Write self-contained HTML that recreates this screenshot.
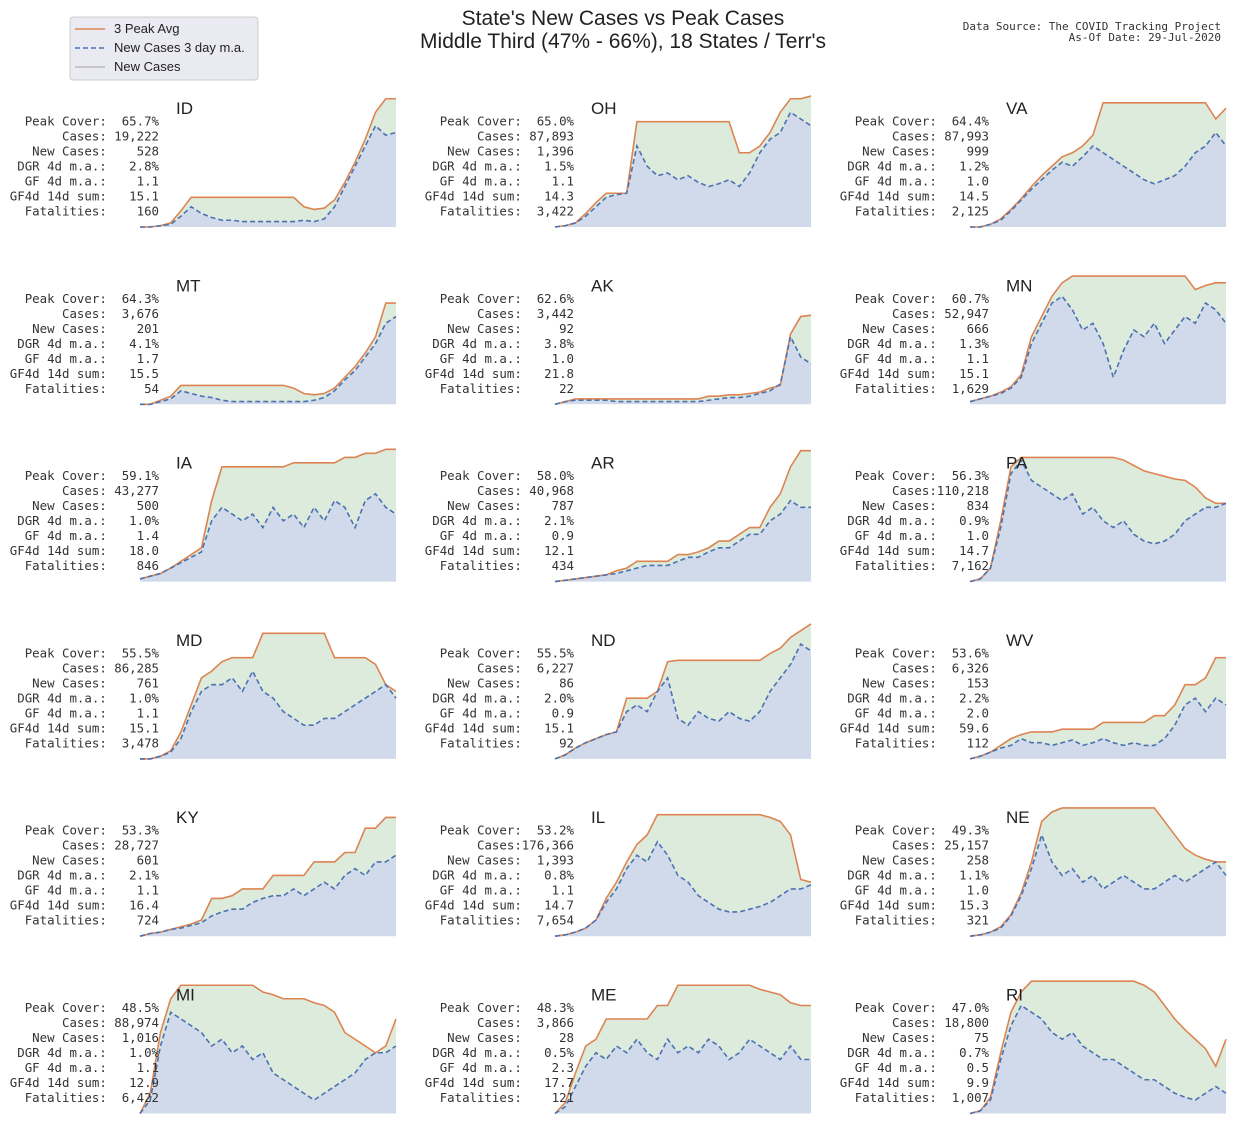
<!DOCTYPE html>
<html><head><meta charset="utf-8">
<style>
html,body{margin:0;padding:0;background:#fff;}
svg{display:block;}
.mono{font-family:"DejaVu Sans Mono","Liberation Mono",monospace;font-size:12.4px;fill:#333;white-space:pre;}
.sans{font-family:"Liberation Sans",Arial,sans-serif;}
</style></head>
<body>
<svg id="chart" width="1246" height="1123" viewBox="0 0 1246 1123" xmlns="http://www.w3.org/2000/svg">
  <text class="sans" x="623" y="25" text-anchor="middle" font-size="21" fill="#222">State's New Cases vs Peak Cases</text>
  <text class="sans" x="623" y="48" text-anchor="middle" font-size="21" fill="#222">Middle Third (47% - 66%), 18 States / Terr's</text>
  <text class="mono" x="1221" y="30" text-anchor="end" style="font-size:11px">Data Source: The COVID Tracking Project</text>
  <text class="mono" x="1221" y="41" text-anchor="end" style="font-size:11px">As-Of Date: 29-Jul-2020</text>
  <g>
    <rect x="70" y="17" width="188" height="63" rx="3" fill="#eaeaf2" stroke="#ccc"/>
    <line x1="75" y1="29" x2="105" y2="29" stroke="#dd8452" stroke-width="1.5"/>
    <text class="sans" x="114" y="33" font-size="13" fill="#222">3 Peak Avg</text>
    <line x1="75" y1="48" x2="105" y2="48" stroke="#4c72b0" stroke-width="1.5" stroke-dasharray="5,3"/>
    <text class="sans" x="114" y="52" font-size="13" fill="#222">New Cases 3 day m.a.</text>
    <line x1="75" y1="67" x2="105" y2="67" stroke="#bbb" stroke-width="1.5"/>
    <text class="sans" x="114" y="71" font-size="13" fill="#222">New Cases</text>
  </g>
  <g id="panels"></g>
</svg>
<script>
const states = ["ID","OH","VA","MT","AK","MN","IA","AR","PA","MD","ND","WV","KY","IL","NE","MI","ME","RI"];
const statLabels = ["Peak Cover:","Cases:","New Cases:","DGR 4d m.a.:","GF 4d m.a.:","GF4d 14d sum:","Fatalities:"];

const statsID = ["65.7%","19,222","528","2.8%","1.1","15.1","160"];
const statsOH = ["65.0%","87,893","1,396","1.5%","1.1","14.3","3,422"];
const statsVA = ["64.4%","87,993","999","1.2%","1.0","14.5","2,125"];
const statsMT = ["64.3%","3,676","201","4.1%","1.7","15.5","54"];
const statsAK = ["62.6%","3,442","92","3.8%","1.0","21.8","22"];
const statsMN = ["60.7%","52,947","666","1.3%","1.1","15.1","1,629"];
const statsIA = ["59.1%","43,277","500","1.0%","1.4","18.0","846"];
const statsAR = ["58.0%","40,968","787","2.1%","0.9","12.1","434"];
const statsPA = ["56.3%","110,218","834","0.9%","1.0","14.7","7,162"];
const statsMD = ["55.5%","86,285","761","1.0%","1.1","15.1","3,478"];
const statsND = ["55.5%","6,227","86","2.0%","0.9","15.1","92"];
const statsWV = ["53.6%","6,326","153","2.2%","2.0","59.6","112"];
const statsKY = ["53.3%","28,727","601","2.1%","1.1","16.4","724"];
const statsIL = ["53.2%","176,366","1,393","0.8%","1.1","14.7","7,654"];
const statsNE = ["49.3%","25,157","258","1.1%","1.0","15.3","321"];
const statsMI = ["48.5%","88,974","1,016","1.0%","1.1","12.9","6,422"];
const statsME = ["48.3%","3,866","28","0.5%","2.3","17.7","121"];
const statsRI = ["47.0%","18,800","75","0.7%","0.5","9.9","1,007"];

const maID = [0,0,1,2,8,15,10,7,5,5,4,4,4,4,4,4,5,4,6,15,30,45,60,75,68,70];
const peakID = [0,0,1,3,12,22,22,22,22,22,22,22,22,22,22,22,15,13,14,20,33,48,65,85,95,95];
const maOH = [0,1,3,8,15,22,24,25,60,45,38,40,35,38,33,30,32,35,30,40,55,65,70,85,80,75];
const peakOH = [0,1,3,10,18,25,25,25,78,78,78,78,78,78,78,78,78,78,55,55,60,70,85,95,95,97];
const maVA = [0,0,2,5,12,20,28,35,42,48,45,52,60,55,50,45,40,35,32,35,38,45,55,60,70,60];
const peakVA = [0,0,2,6,13,21,30,38,45,52,55,60,68,92,92,92,92,92,92,92,92,92,92,92,80,88];
const maMT = [0,0,2,4,10,8,6,5,3,2,2,2,2,2,2,2,2,3,5,10,18,25,35,45,60,65];
const peakMT = [0,0,3,6,14,14,14,14,14,14,14,14,14,14,14,12,8,7,8,12,20,28,38,50,75,75];
const maAK = [0,2,3,3,3,3,2,2,2,2,2,2,2,2,2,3,4,5,5,6,8,10,15,50,35,30];
const peakAK = [0,2,4,4,4,4,4,4,4,4,4,4,4,4,4,6,6,7,7,8,9,12,14,52,65,66];
const maMN = [2,4,6,8,12,20,45,60,75,80,70,55,60,45,20,40,55,50,60,45,55,65,60,75,70,60];
const peakMN = [2,4,6,9,13,22,50,65,80,90,95,95,95,95,95,95,95,95,95,95,95,95,85,88,90,90];
const maIA = [2,4,6,10,14,18,22,45,55,50,45,50,40,55,45,50,40,55,45,60,55,40,60,65,55,50];
const peakIA = [2,4,6,10,15,20,25,60,85,85,85,85,85,85,85,88,88,88,88,88,92,92,95,95,98,98];
const maAR = [0,1,2,3,4,5,6,8,10,12,12,12,15,18,18,22,25,25,30,35,35,45,50,60,55,55];
const peakAR = [0,1,2,3,4,5,8,10,15,15,15,15,20,20,22,25,30,30,35,40,40,55,65,85,97,97];
const maPA = [0,2,10,40,80,90,75,70,65,60,65,50,55,45,40,45,35,30,28,30,35,45,50,55,55,58];
const peakPA = [0,2,10,45,85,92,92,92,92,92,92,92,92,92,92,90,86,82,80,78,76,75,70,62,58,58];
const maMD = [0,0,2,5,15,35,50,55,55,60,50,65,50,45,35,30,25,25,30,30,35,40,45,50,55,45];
const peakMD = [0,0,2,6,20,40,60,65,72,75,75,75,93,93,93,93,93,93,93,75,75,75,75,70,55,50];
const maND = [0,3,8,12,15,18,20,35,40,35,50,60,30,25,35,30,28,35,30,28,35,50,60,70,85,80];
const peakND = [0,3,8,12,15,18,20,45,45,45,50,72,73,73,73,73,73,73,73,73,73,78,82,90,95,100];
const maWV = [0,2,5,8,10,15,12,12,10,12,14,10,12,15,12,10,12,10,10,15,25,40,45,35,45,40];
const peakWV = [0,2,5,10,15,18,20,20,20,22,22,22,22,27,27,27,27,27,32,32,40,55,55,60,75,75];
const maKY = [0,2,3,5,6,8,10,15,18,20,20,25,28,30,30,35,30,35,40,35,45,50,45,55,55,60];
const peakKY = [0,2,3,5,7,9,12,28,28,30,35,35,35,45,45,45,45,55,55,55,62,62,80,80,88,88];
const maIL = [0,1,3,6,12,25,35,50,60,55,70,60,45,40,30,25,20,18,18,20,22,25,30,35,35,38];
const peakIL = [0,1,3,6,12,28,40,55,68,75,90,90,90,90,90,90,90,90,90,90,90,88,85,75,42,40];
const maNE = [0,1,3,6,15,30,50,75,55,45,50,40,45,35,40,45,40,35,35,40,45,40,45,50,55,45];
const peakNE = [0,1,3,7,16,32,55,85,92,95,95,95,95,95,95,95,95,95,95,85,75,65,60,57,55,55];
const maMI = [0,10,50,75,70,65,60,50,55,45,50,40,45,30,25,20,15,10,15,20,25,30,40,45,45,50];
const peakMI = [0,15,60,85,95,95,95,95,95,95,95,95,90,88,85,85,85,82,80,75,60,55,50,45,50,70];
const maME = [0,5,20,35,45,40,50,45,55,45,40,55,45,50,45,55,50,40,45,55,50,45,40,50,40,40];
const peakME = [0,8,30,50,55,70,70,70,70,70,80,80,95,95,95,95,95,95,95,95,92,90,88,82,80,80];
const maRI = [0,2,10,40,65,80,75,70,60,55,60,50,45,40,40,35,30,25,25,20,15,12,10,15,20,15];
const peakRI = [0,2,12,45,75,90,98,98,98,98,98,98,98,98,98,98,98,95,90,80,70,62,55,48,35,55];

const statsBy = {ID:statsID,OH:statsOH,VA:statsVA,MT:statsMT,AK:statsAK,MN:statsMN,IA:statsIA,AR:statsAR,PA:statsPA,MD:statsMD,ND:statsND,WV:statsWV,KY:statsKY,IL:statsIL,NE:statsNE,MI:statsMI,ME:statsME,RI:statsRI};
const maBy = {ID:maID,OH:maOH,VA:maVA,MT:maMT,AK:maAK,MN:maMN,IA:maIA,AR:maAR,PA:maPA,MD:maMD,ND:maND,WV:maWV,KY:maKY,IL:maIL,NE:maNE,MI:maMI,ME:maME,RI:maRI};
const peakBy = {ID:peakID,OH:peakOH,VA:peakVA,MT:peakMT,AK:peakAK,MN:peakMN,IA:peakIA,AR:peakAR,PA:peakPA,MD:peakMD,ND:peakND,WV:peakWV,KY:peakKY,IL:peakIL,NE:peakNE,MI:peakMI,ME:peakME,RI:peakRI};

const NS = "http://www.w3.org/2000/svg";
const root = document.getElementById("panels");
const colLeft = [140, 555, 970];
const plotW = 256, plotH = 135, rowTop0 = 92, rowStep = 177.3;

function mk(tag, attrs, parent){
  const e = document.createElementNS(NS, tag);
  for (const k in attrs) e.setAttribute(k, attrs[k]);
  parent.appendChild(e);
  return e;
}

states.forEach((st, idx) => {
  const col = idx % 3, row = Math.floor(idx / 3);
  const x0 = colLeft[col], y0 = rowTop0 + row * rowStep;
  const ma = maBy[st], pk = peakBy[st];
  const n = ma.length;
  const xs = i => x0 + i * plotW / (n - 1);
  const ys = v => y0 + plotH - v / 100 * plotH;

  const g = mk("g", {}, root);
  
  

  let top = pk.map((v,i)=>xs(i)+","+ys(v)).join(" ");
  let bot = ma.map((v,i)=>xs(i)+","+ys(v)).reverse().join(" ");
  const green = mk("polygon", {points: top+" "+bot, fill:"#dcebdc"}, g);
  
  

  const blue = mk("polygon", {points: ma.map((v,i)=>xs(i)+","+ys(v)).join(" ")+" "+xs(n-1)+","+ys(0)+" "+xs(0)+","+ys(0), fill:"#d1daea"}, g);
  
  

  const pl = mk("polyline", {points: top, fill:"none", stroke:"#dd8452", "stroke-width":"1.6"}, g);
  
  

  const ml = mk("polyline", {points: ma.map((v,i)=>xs(i)+","+ys(v)).join(" "), fill:"none", stroke:"#4c72b0", "stroke-width":"1.6", "stroke-dasharray":"5,3"}, g);
  
  

  const lbl = mk("text", {x: x0 + 36, y: y0 + 22, "font-size":"17", fill:"#222", class:"sans"}, g);
  lbl.textContent = st;
  
  

  const stats = statsBy[st];
  statLabels.forEach((lab, j) => {
    const t = mk("text", {x: x0 + 19, y: y0 + 33.5 + j * 15, "text-anchor":"end", class:"mono"}, g);
    const val = stats[j];
    const pad = Math.max(0, 7 - val.length);
    t.textContent = lab + " ".repeat(pad) + val;
    
    
  });
});
</script>
</body></html>
